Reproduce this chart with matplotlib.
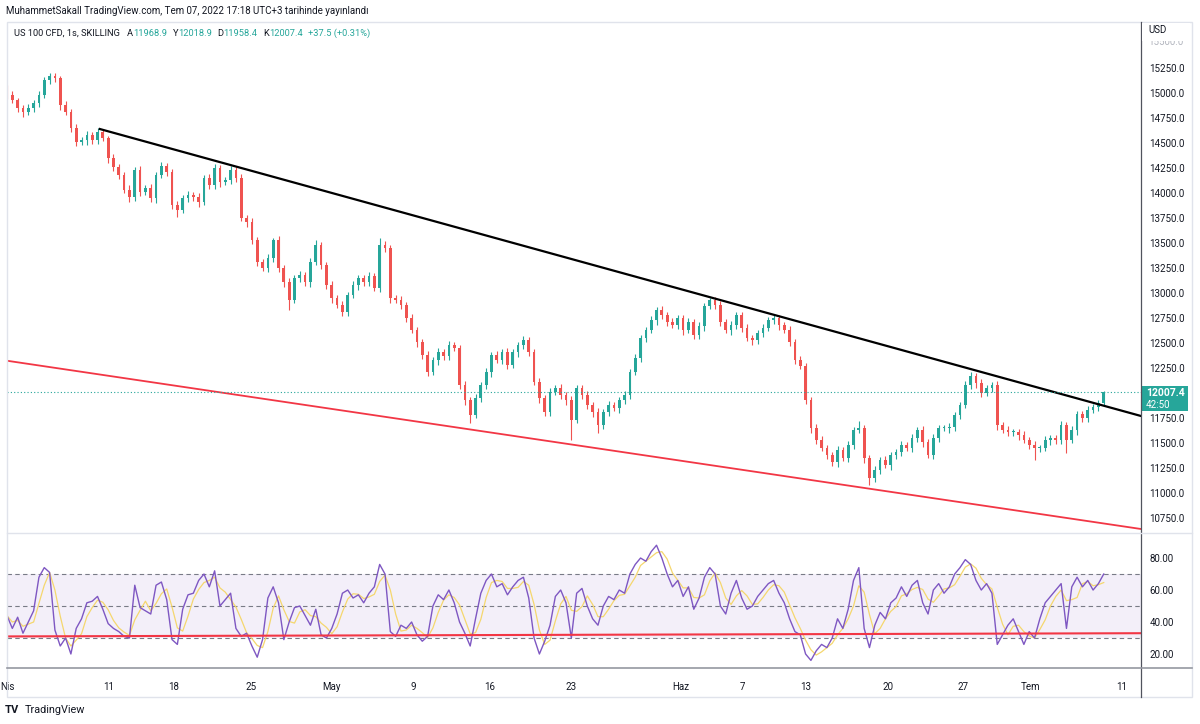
import numpy as np
import pandas as pd
import matplotlib.pyplot as plt
from matplotlib.patches import Rectangle
from matplotlib.lines import Line2D

plt.rcParams['font.family'] = ['Roboto', 'DejaVu Sans']

# US 100 CFD, 3 bars per trading day
first_open = 15050
closes = [
    14980, 14930, 14850, 14810, 14850, 14900, 14980, 15130, 15170, 15150,
    14880, 14810, 14650, 14510, 14530, 14580, 14530, 14610, 14550, 14350,
    14260, 14180, 14030, 13960, 14230, 14010, 14050, 13950, 14180, 14270,
    14210, 13880, 13830, 13950, 13980, 13960, 13910, 14150, 14080, 14250,
    14110, 14130, 14230, 14150, 13750, 13710, 13530, 13310, 13250, 13350,
    13530, 13250, 13110, 12930, 13150, 13180, 13110, 13310, 13480, 13280,
    13080, 12950, 12880, 12810, 12980, 13080, 13150, 13110, 13170, 13050,
    13480, 13450, 12950, 12930, 12880, 12750, 12630, 12510, 12380, 12210,
    12330, 12410, 12370, 12480, 12450, 12080, 11930, 11780, 11950, 12080,
    12210, 12380, 12330, 12410, 12280, 12410, 12480, 12530, 12410, 12110,
    11950, 11810, 12010, 12050, 11980, 11930, 11730, 12050, 11980, 11880,
    11810, 11680, 11810, 11880, 11850, 11930, 11980, 12210, 12350, 12550,
    12630, 12730, 12830, 12780, 12710, 12680, 12750, 12630, 12710, 12580,
    12670, 12870, 12930, 12880, 12710, 12630, 12680, 12780, 12650, 12550,
    12530, 12600, 12650, 12730, 12750, 12680, 12630, 12510, 12330, 12270,
    11930, 11650, 11530, 11450, 11380, 11310, 11430, 11350, 11480, 11630,
    11650, 11350, 11150, 11230, 11330, 11280, 11380, 11410, 11480, 11450,
    11550, 11630, 11510, 11380, 11550, 11650, 11650, 11660, 11780, 11880,
    12080, 12170, 12100, 12000, 12050, 12080, 11680, 11630, 11610, 11610,
    11580, 11530, 11480, 11450, 11450, 11530, 11550, 11530, 11680, 11530,
    11630, 11790, 11750, 11830, 11860, 11900, 12007.4,
]
upper_wick = [
    30, 40, 25, 35, 45, 30, 40, 35, 30, 30,
    25, 40, 30, 45, 35, 40, 30, 45, 35, 25,
    40, 30, 35, 50, 30, 45, 35, 40, 30, 45,
    35, 30, 40, 35, 45, 30, 40, 35, 45, 40,
    30, 35, 40, 30, 45, 35, 40, 30, 35, 45,
    20, 40, 35, 45, 30, 40, 35, 45, 50, 30,
    35, 40, 30, 45, 35, 40, 30, 35, 45, 30,
    70, 40, 30, 35, 45, 30, 40, 35, 30, 45,
    35, 40, 30, 45, 35, 30, 40, 35, 45, 30,
    40, 35, 45, 30, 40, 35, 30, 45, 35, 30,
    40, 35, 45, 30, 40, 35, 45, 30, 35, 40,
    30, 45, 35, 40, 30, 35, 45, 30, 40, 35,
    30, 45, 35, 40, 30, 45, 35, 30, 40, 35,
    45, 30, 20, 35, 40, 30, 45, 35, 30, 40,
    35, 30, 45, 35, 40, 30, 35, 45, 30, 40,
    35, 30, 40, 45, 30, 35, 40, 30, 45, 35,
    70, 35, 30, 45, 35, 40, 30, 35, 45, 30,
    40, 35, 45, 30, 40, 35, 30, 45, 35, 30,
    40, 40, 35, 45, 30, 35, 40, 30, 45, 35,
    30, 40, 35, 45, 30, 40, 35, 30, 45, 35,
    40, 30, 35, 45, 30, 35, 11.5,
]
lower_wick = [
    35, 30, 40, 50, 30, 35, 40, 30, 35, 40,
    45, 30, 35, 40, 30, 45, 35, 40, 30, 45,
    35, 40, 30, 45, 35, 40, 30, 35, 45, 30,
    40, 35, 70, 30, 40, 35, 45, 30, 40, 35,
    45, 30, 35, 40, 30, 45, 35, 40, 30, 35,
    40, 35, 45, 100, 30, 40, 35, 45, 30, 40,
    35, 45, 30, 40, 35, 30, 45, 35, 40, 30,
    35, 40, 45, 30, 35, 40, 30, 45, 35, 40,
    30, 45, 35, 40, 30, 35, 45, 80, 30, 40,
    35, 45, 30, 40, 35, 30, 45, 35, 40, 30,
    45, 35, 40, 30, 35, 45, 200, 30, 40, 35,
    45, 80, 35, 40, 30, 45, 35, 40, 30, 35,
    40, 30, 45, 35, 40, 30, 35, 45, 30, 40,
    35, 45, 30, 40, 35, 30, 45, 35, 40, 30,
    45, 35, 40, 30, 35, 45, 30, 40, 35, 30,
    40, 45, 35, 30, 40, 35, 45, 30, 40, 35,
    30, 45, 70, 40, 35, 30, 45, 35, 40, 30,
    35, 40, 45, 30, 35, 40, 30, 45, 35, 40,
    30, 35, 45, 40, 30, 35, 45, 30, 40, 35,
    45, 30, 40, 120, 35, 30, 45, 40, 35, 130,
    30, 45, 35, 40, 30, 35, 30,
]
rsi = [
    44, 36, 43, 33, 40, 47, 68, 74, 71, 35,
    25, 30, 20, 36, 42, 52, 53, 56, 48, 39,
    36, 34, 31, 30, 63, 49, 47, 45, 63, 65,
    54, 29, 26, 48, 57, 58, 66, 70, 62, 72,
    50, 54, 58, 36, 31, 33, 25, 18, 29, 55,
    62, 52, 29, 40, 49, 50, 44, 38, 48, 32,
    30, 36, 45, 58, 60, 55, 57, 52, 58, 62,
    76, 70, 34, 31, 38, 36, 40, 32, 28, 31,
    50, 57, 54, 60, 52, 40, 33, 25, 42, 58,
    66, 70, 62, 64, 57, 62, 66, 68, 55, 30,
    20, 28, 38, 56, 60, 52, 30, 58, 61, 50,
    42, 38, 50, 56, 54, 60, 58, 70, 76, 80,
    78, 84, 88, 80, 70, 62, 66, 56, 62, 48,
    55, 68, 74, 70, 50, 45, 58, 66, 55, 48,
    50, 56, 60, 64, 66, 58, 52, 42, 34, 32,
    20, 16, 22, 26, 24, 30, 42, 36, 48, 66,
    74, 36, 24, 38, 46, 42, 52, 55, 62, 56,
    63, 66, 52, 45, 60, 64, 58, 62, 70, 74,
    79, 76, 66, 60, 64, 58, 26, 32, 38, 42,
    34, 26, 34, 30, 42, 52, 56, 60, 64, 36,
    62, 68, 62, 66, 60, 64, 70,
]
bars_per_day = 3

tick_days = [0, 6.375, 10.44, 15.31, 20.31, 25.44, 30.19, 35.31,
             42.19, 46.06, 50.0, 55.19, 59.88, 64.06, 69.81]
tick_labels = ['Nis', '11', '18', '25', 'May', '9', '16', '23',
               'Haz', '7', '13', '20', '27', 'Tem', '11']

# drawn lines (day, price) / (day, rsi)
resistance = [(5.81, 14640), (71.0, 11770)]
support = [(-0.31, 12330), (71.0, 10640)]
rsi_line = [(0.1, 31.0), (71.0, 33.0)]
last_price = 12007.4

GREEN = '#26a69a'
RED = '#ef5350'
TXT = '#131722'

W, H = 1200, 724
fig = plt.figure(figsize=(12, 7.24), dpi=100)


def fx(x):
    return x / W


def fy(y):
    return 1 - y / H


ax = fig.add_axes([fx(7), fy(533), fx(1141 - 7), fy(22) - fy(533)])
ax2 = fig.add_axes([fx(7), fy(668), fx(1141 - 7), fy(535) - fy(668)], sharex=ax)

c = np.array(closes, dtype=float)
o = np.concatenate([[first_open], c[:-1]])
hi = np.maximum(o, c) + np.array(upper_wick)
lo = np.minimum(o, c) - np.array(lower_wick)
x = np.arange(len(c)) / bars_per_day
up = c >= o
cols = np.where(up, GREEN, RED)

ax.vlines(x, lo, hi, colors=cols, lw=0.8)
body = np.maximum(np.abs(c - o), 6)
ax.bar(x, body, width=0.17, bottom=np.minimum(o, c), color=cols, lw=0)

ax.plot(*zip(*resistance), color='black', lw=1.6)
ax.plot(*zip(*support), color='#f23645', lw=1.3)
ax.axhline(last_price, color=GREEN, lw=0.8, ls=(0, (1, 2)))

ax.set_xlim(0.125, 71.0)
ax.set_ylim(10600, 15710)
ax.yaxis.tick_right()
ax.set_yticks([v for v in np.arange(10750, 15251, 250) if v != 12000])
ax.yaxis.set_major_formatter('{x:.1f}')
ax.tick_params(axis='y', length=0, pad=6, labelsize=7, labelcolor=TXT)
ax.tick_params(axis='x', length=0, labelbottom=False)
for s in ax.spines.values():
    s.set_visible(False)

# RSI pane + RSI-based MA
rsi_ma = pd.Series(rsi, dtype=float).rolling(3, min_periods=1).mean()

ax2.axhspan(30, 70, color='#7e57c2', alpha=0.09, lw=0)
for lv in (70, 50, 30):
    ax2.axhline(lv, color='#787b86', lw=0.8, ls=(0, (4, 3)))
ax2.plot(x, rsi_ma, color='#f5d76e', lw=0.9)
ax2.plot(x, rsi, color='#7e57c2', lw=1.0)
ax2.plot(*zip(*rsi_line), color='#f23645', lw=1.5)
ax2.set_ylim(11.25, 94.4)
ax2.yaxis.tick_right()
ax2.set_yticks([20, 40, 60, 80])
ax2.yaxis.set_major_formatter('{x:.2f}')
ax2.tick_params(axis='y', length=0, pad=6, labelsize=7, labelcolor=TXT)
ax2.set_xticks(tick_days)
ax2.set_xticklabels(tick_labels)
ax2.tick_params(axis='x', length=0, pad=10, labelsize=7, labelcolor=TXT)
for s in ax2.spines.values():
    s.set_visible(False)

# frame
fig.add_artist(Rectangle((fx(7), fy(697)), fx(1192 - 7), fy(22) - fy(697),
                         transform=fig.transFigure, fill=False, ec='#e0e3eb', lw=1))
fig.add_artist(Line2D([fx(1141), fx(1141)], [fy(22), fy(697)], color='#50535e', lw=0.9))
fig.add_artist(Line2D([fx(7), fx(1192)], [fy(533), fy(533)], color='#e0e3eb', lw=1))
fig.add_artist(Line2D([fx(7), fx(1192)], [fy(668), fy(668)], color='#9598a1', lw=1.2))

# half-hidden top label under the currency
fig.text(fx(1148), fy(42), '15500.0', color='#b2b5be', fontsize=7, va='center', zorder=1)
fig.add_artist(Rectangle((fx(1142), fy(41)), fx(48), fy(23) - fy(41),
                         transform=fig.transFigure, color='white', lw=0, zorder=2))
fig.text(fx(1148), fy(30), 'USD', color=TXT, fontsize=7, va='center', zorder=3)

# last price label
fig.add_artist(Rectangle((fx(1141), fy(411)), fx(47), fy(386) - fy(411),
                         transform=fig.transFigure, color=GREEN, lw=0))
fig.text(fx(1146), fy(393), '12007.4', color='white', fontsize=7.5,
         fontweight='bold', va='center')
fig.text(fx(1146), fy(405), '42:50', color='white', fontsize=7, va='center')

# header
fig.text(fx(6), fy(11), 'MuhammetSakall TradingView.com, Tem 07, 2022 17:18 UTC+3 '
         'tarihinde yayınlandı', color=TXT, fontsize=7, va='center')
parts = [('A', TXT, 5), ('11968.9', GREEN, 0), ('Y', TXT, 4), ('12018.9', GREEN, 0),
         ('D', TXT, 4), ('11958.4', GREEN, 0), ('K', TXT, 4), ('12007.4', GREEN, 0),
         ('+37.5 (+0.31%)', GREEN, 4)]
prev = fig.text(fx(14), fy(33), 'US 100 CFD, 1s, SKILLING', color=TXT,
                fontsize=6.7, va='center')
for t, col, gap in parts:
    prev = ax.annotate(t, xy=(1, 0), xycoords=prev, xytext=(gap, 0),
                       textcoords='offset points', va='bottom', ha='left',
                       color=col, fontsize=6.7, annotation_clip=False)

# footer logo
fig.text(fx(5), fy(710), 'TV', color=TXT, fontsize=8, fontweight='bold', va='center')
fig.text(fx(25), fy(710), 'TradingView', color=TXT, fontsize=7.8, va='center')

fig.savefig('out.png', dpi=100)
